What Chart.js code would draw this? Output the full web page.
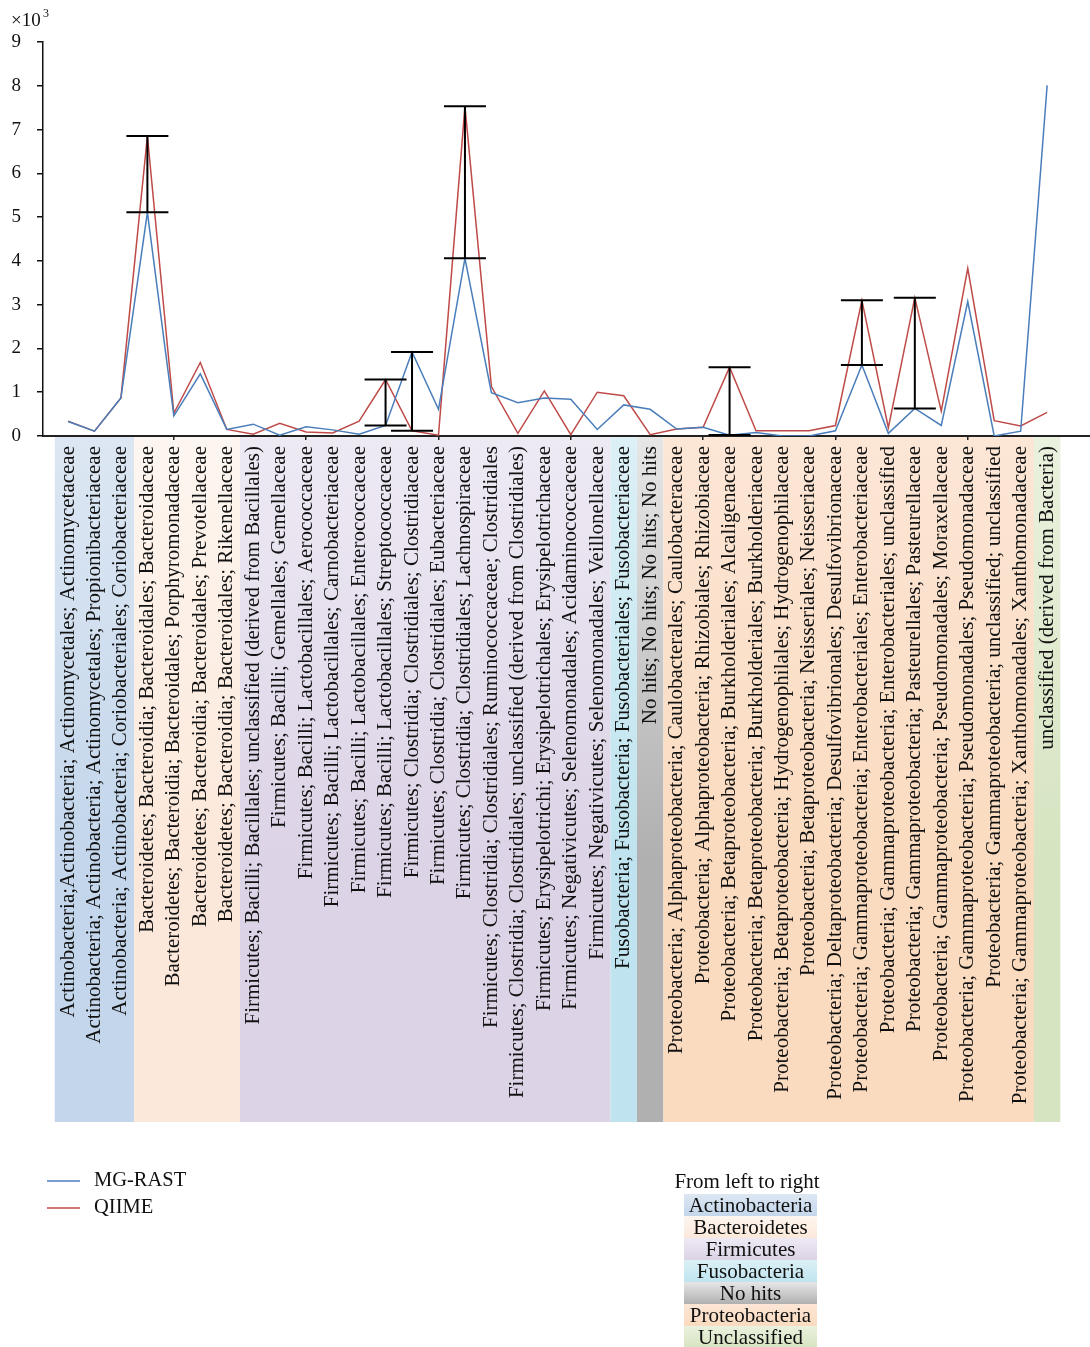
<!DOCTYPE html>
<html>
<head>
<meta charset="utf-8">
<script src="https://cdn.jsdelivr.net/npm/chart.js@4/dist/chart.umd.min.js"></script>
<style>
  html, body { margin: 0; padding: 0; background: #ffffff; }
  canvas { display: block; }
</style>
</head>
<body>
<canvas id="chart" width="1090" height="1347"></canvas>
<script>
// Taxon categories along the x axis (phylum; class; order; family)
const categories = [
  "Actinobacteria;Actinobacteria; Actinomycetales; Actinomycetaceae",
  "Actinobacteria; Actinobacteria; Actinomycetales; Propionibacteriaceae",
  "Actinobacteria; Actinobacteria; Coriobacteriales; Coriobacteriaceae",
  "Bacteroidetes; Bacteroidia; Bacteroidales; Bacteroidaceae",
  "Bacteroidetes; Bacteroidia; Bacteroidales; Porphyromonadaceae",
  "Bacteroidetes; Bacteroidia; Bacteroidales; Prevotellaceae",
  "Bacteroidetes; Bacteroidia; Bacteroidales; Rikenellaceae",
  "Firmicutes; Bacilli; Bacillales; unclassified (derived from Bacillales)",
  "Firmicutes; Bacilli; Gemellales; Gemellaceae",
  "Firmicutes; Bacilli; Lactobacillales; Aerococcaceae",
  "Firmicutes; Bacilli; Lactobacillales; Carnobacteriaceae",
  "Firmicutes; Bacilli; Lactobacillales; Enterococcaceae",
  "Firmicutes; Bacilli; Lactobacillales; Streptococcaceae",
  "Firmicutes; Clostridia; Clostridiales; Clostridiaceae",
  "Firmicutes; Clostridia; Clostridiales; Eubacteriaceae",
  "Firmicutes; Clostridia; Clostridiales; Lachnospiraceae",
  "Firmicutes; Clostridia; Clostridiales; Ruminococcaceae; Clostridiales",
  "Firmicutes; Clostridia; Clostridiales; unclassified (derived from Clostridiales)",
  "Firmicutes; Erysipelotrichi; Erysipelotrichales; Erysipelotrichaceae",
  "Firmicutes; Negativicutes; Selenomonadales; Acidaminococcaceae",
  "Firmicutes; Negativicutes; Selenomonadales; Veillonellaceae",
  "Fusobacteria; Fusobacteria; Fusobacteriales; Fusobacteriaceae",
  "No hits; No hits; No hits; No hits",
  "Proteobacteria; Alphaproteobacteria; Caulobacterales; Caulobacteraceae",
  "Proteobacteria; Alphaproteobacteria; Rhizobiales; Rhizobiaceae",
  "Proteobacteria; Betaproteobacteria; Burkholderiales; Alcaligenaceae",
  "Proteobacteria; Betaproteobacteria; Burkholderiales; Burkholderiaceae",
  "Proteobacteria; Betaproteobacteria; Hydrogenophilales; Hydrogenophilaceae",
  "Proteobacteria; Betaproteobacteria; Neisseriales; Neisseriaceae",
  "Proteobacteria; Deltaproteobacteria; Desulfovibrionales; Desulfovibrionaceae",
  "Proteobacteria; Gammaproteobacteria; Enterobacteriales; Enterobacteriaceae",
  "Proteobacteria; Gammaproteobacteria; Enterobacteriales; unclassified",
  "Proteobacteria; Gammaproteobacteria; Pasteurellales; Pasteurellaceae",
  "Proteobacteria; Gammaproteobacteria; Pseudomonadales; Moraxellaceae",
  "Proteobacteria; Gammaproteobacteria; Pseudomonadales; Pseudomonadaceae",
  "Proteobacteria; Gammaproteobacteria; unclassified; unclassified",
  "Proteobacteria; Gammaproteobacteria; Xanthomonadales; Xanthomonadaceae",
  "unclassified (derived from Bacteria)"
];

// Read counts per taxon, in thousands
const mgRast = [0.33, 0.11, 0.87, 5.11, 0.46, 1.42, 0.15, 0.27, 0.02, 0.21,
                0.14, 0.04, 0.24, 1.92, 0.61, 4.06, 0.99, 0.76, 0.87, 0.84,
                0.15, 0.71, 0.61, 0.16, 0.20, 0.02, 0.08, 0.00, 0.00, 0.12,
                1.62, 0.06, 0.63, 0.24, 3.07, 0.00, 0.11, 8.01];
const qiime  = [0.34, 0.11, 0.87, 6.85, 0.52, 1.68, 0.15, 0.04, 0.29, 0.09,
                0.07, 0.34, 1.29, 0.12, 0.02, 7.53, 1.13, 0.06, 1.03, 0.03,
                1.00, 0.92, 0.03, 0.16, 0.20, 1.57, 0.12, 0.12, 0.12, 0.24,
                3.10, 0.19, 3.16, 0.57, 3.83, 0.35, 0.23, 0.54];

// Taxa where the difference between the two pipelines is marked
const diffMarked = [3, 12, 13, 15, 25, 30, 32];

// Phylum groups, from left to right
const groupNames  = ["Actinobacteria", "Bacteroidetes", "Firmicutes", "Fusobacteria", "No hits", "Proteobacteria", "Unclassified"];
const groupCounts = [3, 4, 14, 1, 1, 14, 1];
const groupTop    = ["#dde7f3", "#fdf6f0", "#eeeaf4", "#dcf0f6", "#e6e6e6", "#fce6d6", "#eaf1de"];
const groupBottom = ["#c3d6eb", "#fce8da", "#dcd3e6", "#bfe4ef", "#b0b0b0", "#fadbbf", "#d6e4c1"];

const yTicks = [0, 1, 2, 3, 4, 5, 6, 7, 8, 9];

const SERIF = '"Liberation Serif", "Times New Roman", serif';
const BAND_TOP = 437, BAND_BOTTOM = 1122;

function vGrad(ctx, y0, y1, c0, c1) {
  const g = ctx.createLinearGradient(0, y0, 0, y1);
  g.addColorStop(0, c0);
  g.addColorStop(1, c1);
  return g;
}

// Colored phylum bands behind the rotated category labels
const bandPlugin = {
  id: 'bands',
  beforeDraw(chart) {
    const ctx = chart.ctx;
    const xs = chart.scales.x;
    let start = 0;
    ctx.save();
    groupCounts.forEach((n, g) => {
      const x0 = xs.getPixelForValue(start - 0.5);
      const x1 = xs.getPixelForValue(start + n - 0.5);
      ctx.fillStyle = vGrad(ctx, BAND_TOP, BAND_TOP + 420, groupTop[g], groupBottom[g]);
      ctx.fillRect(x0, BAND_TOP, x1 - x0, BAND_BOTTOM - BAND_TOP);
      start += n;
    });
    ctx.restore();
  }
};

// Vertical bars with caps spanning the two series at marked taxa
const diffPlugin = {
  id: 'diffBars',
  afterDatasetsDraw(chart) {
    const ctx = chart.ctx;
    const a = chart.getDatasetMeta(0).data;
    const b = chart.getDatasetMeta(1).data;
    ctx.save();
    ctx.strokeStyle = '#000';
    ctx.lineWidth = 2;
    diffMarked.forEach(i => {
      const x = a[i].x;
      const y0 = a[i].y, y1 = b[i].y;
      ctx.beginPath();
      ctx.moveTo(x, y0); ctx.lineTo(x, y1);
      ctx.moveTo(x - 21, y0); ctx.lineTo(x + 21, y0);
      ctx.moveTo(x - 21, y1); ctx.lineTo(x + 21, y1);
      ctx.stroke();
    });
    ctx.restore();
  }
};

// Axis multiplier, series key and phylum key
const annotationPlugin = {
  id: 'annotations',
  afterDraw(chart) {
    const ctx = chart.ctx;
    ctx.save();
    ctx.fillStyle = '#111';
    ctx.textBaseline = 'alphabetic';
    ctx.textAlign = 'left';
    ctx.font = '19px ' + SERIF;
    ctx.fillText('\u00d710', 11, 26);
    ctx.font = '12px ' + SERIF;
    ctx.fillText('3', 43, 17);

    // series key
    const ys = [1181, 1208];
    chart.data.datasets.forEach((ds, i) => {
      ctx.strokeStyle = ds.borderColor;
      ctx.lineWidth = 1.5;
      ctx.beginPath();
      ctx.moveTo(47, ys[i]); ctx.lineTo(80, ys[i]);
      ctx.stroke();
      ctx.fillStyle = '#111';
      ctx.font = '20.5px ' + SERIF;
      ctx.textBaseline = 'middle';
      ctx.fillText(ds.label, 94, ys[i]);
    });

    // phylum key
    const bx = 684, bw = 133, bh = 22, by = 1194;
    ctx.textAlign = 'center';
    ctx.textBaseline = 'middle';
    ctx.font = '21px ' + SERIF;
    ctx.fillStyle = '#111';
    ctx.fillText('From left to right', 747, 1182);
    groupNames.forEach((name, g) => {
      const y = by + g * bh;
      ctx.fillStyle = vGrad(ctx, y, y + bh, groupTop[g], groupBottom[g]);
      ctx.fillRect(bx, y, bw, bh);
      ctx.fillStyle = '#111';
      ctx.fillText(name, bx + bw / 2, y + bh / 2 + 1);
    });
    ctx.restore();
  }
};

const toPoints = arr => arr.map((v, i) => ({ x: i, y: v }));

new Chart(document.getElementById('chart'), {
  type: 'line',
  data: {
    datasets: [
      { label: 'MG-RAST', data: toPoints(mgRast), borderColor: '#4a7ebb', borderWidth: 1.5,
        pointRadius: 0, tension: 0, fill: false },
      { label: 'QIIME', data: toPoints(qiime), borderColor: '#be4b48', borderWidth: 1.5,
        pointRadius: 0, tension: 0, fill: false }
    ]
  },
  options: {
    responsive: false,
    animation: false,
    devicePixelRatio: 1,
    layout: { padding: { top: 42, left: 0, right: 0, bottom: 0 } },
    plugins: { legend: { display: false }, tooltip: { enabled: false } },
    scales: {
      x: {
        type: 'linear',
        min: -0.945,
        max: 38.62,
        afterBuildTicks(scale) {
          scale.ticks = categories.map((_, i) => ({ value: i }));
        },
        afterFit(scale) {
          scale.height = 1347 - 436;
          scale.paddingLeft = 0;
          scale.paddingRight = 0;
        },
        border: { display: true, color: '#222', width: 2 },
        grid: {
          drawOnChartArea: false,
          drawTicks: true,
          tickLength: 4,
          lineWidth: 1.5,
          color: c => (c.index % 5 === 4 ? '#222' : 'rgba(0,0,0,0)')
        },
        ticks: {
          autoSkip: false,
          minRotation: 90,
          maxRotation: 90,
          padding: 6,
          color: '#111',
          font: { family: SERIF, size: 21 },
          callback: v => categories[v]
        }
      },
      y: {
        min: 0,
        max: 9,
        afterBuildTicks(scale) {
          scale.ticks = yTicks.map(v => ({ value: v }));
        },
        afterFit(scale) {
          scale.width = 43;
          scale.paddingTop = 0;
          scale.paddingBottom = 0;
        },
        border: { display: true, color: '#111', width: 1.5 },
        grid: { drawOnChartArea: false, drawTicks: true, tickLength: 6, color: '#111', lineWidth: 1.5 },
        ticks: {
          padding: 16,
          color: '#111',
          font: { family: SERIF, size: 19 }
        }
      }
    }
  },
  plugins: [bandPlugin, diffPlugin, annotationPlugin]
});
</script>
</body>
</html>
